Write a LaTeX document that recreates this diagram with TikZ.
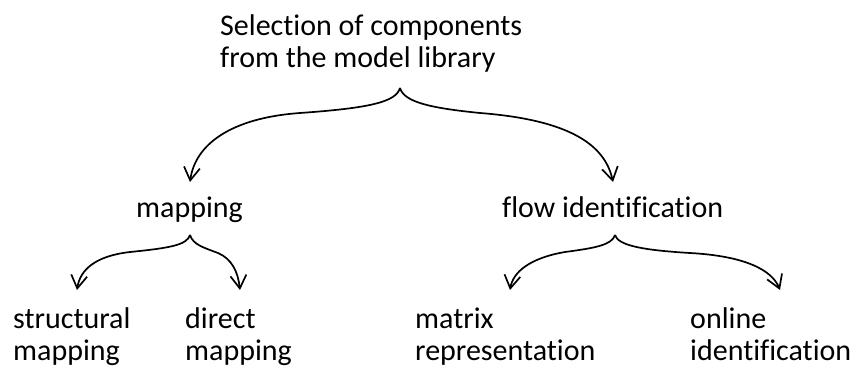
\documentclass[tikz,border=0pt]{standalone}
\usepackage{fontspec}
\setmainfont{Carlito}[Ligatures={NoCommon}]
\usetikzlibrary{arrows.meta}
\begin{document}
\begin{tikzpicture}[x=1pt,y=-1pt,
  lbl/.style={inner sep=0pt, align=left, anchor=base west, font=\fontsize{30}{31.5}\selectfont},
  conn/.style={line width=1.7pt, -{Straight Barb[length=13pt,width=16pt,line width=1.7pt]}}]
\useasboundingbox (0,0) rectangle (864,369);
% text nodes (base anchor = baseline of last line)
\node[lbl] (root) at (220,67) {Selection of components\\from the model library};
\node[lbl] (map) at (136,217) {mapping};
\node[lbl] (flow) at (502,217) {flow identification};
\node[lbl] (smap) at (13,360) {structural\\mapping};
\node[lbl] (dmap) at (185,360) {direct\\mapping};
\node[lbl] (mrep) at (415,360) {matrix\\representation};
\node[lbl] (oid) at (690,360) {online\\identification};
% brace cusps and arrow tips
\coordinate (c0) at (400,88);
\coordinate (t1) at (190,182);
\coordinate (t2) at (613,182);
\coordinate (c1) at (190,235);
\coordinate (t3) at (77,290);
\coordinate (t4) at (240,290);
\coordinate (c2) at (615,235);
\coordinate (t5) at (510,290);
\coordinate (t6) at (780,290);
% connectors
\draw[conn] (c0) .. controls (396,102) and (370,108) .. (300,113) .. controls (230,118) and (195,145) .. (t1);
\draw[conn] (c0) .. controls (404,102) and (430,108) .. (480,113) .. controls (570,120) and (605,145) .. (t2);
\draw[conn] (c1) .. controls (187,245) and (170,248) .. (130,252) .. controls (95,256) and (80,270) .. (t3);
\draw[conn] (c1) .. controls (193,245) and (205,248) .. (218,253) .. controls (232,259) and (238,272) .. (t4);
\draw[conn] (c2) .. controls (612,245) and (595,248) .. (565,252) .. controls (530,258) and (513,272) .. (t5);
\draw[conn] (c2) .. controls (618,245) and (640,250) .. (690,253) .. controls (745,256) and (772,270) .. (t6);
\end{tikzpicture}
\end{document}
